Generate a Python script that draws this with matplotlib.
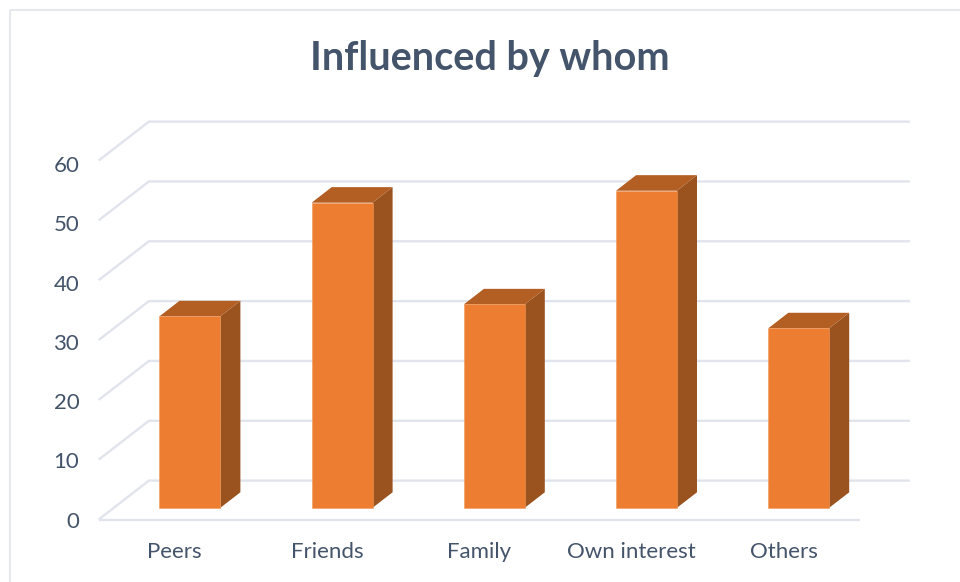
import matplotlib
matplotlib.use("Agg")
from matplotlib import pyplot as plt

categories = ["Peers", "Friends", "Family", "Own interest", "Others"]
values = [32, 51, 34, 53, 30]
y_ticks = [0, 10, 20, 30, 40, 50, 60]

# oblique offset of the back wall, in data units
depth_x = 0.33
depth_y = 6.5
bar_width = 0.4
grid_color = "#E1E4EC"
text_color = "#44546A"

plt.rcParams["font.family"] = ["Lato", "DejaVu Sans"]

fig = plt.figure(figsize=(9.6, 5.82), dpi=100)
ax = fig.add_axes([98.7 / 960, 1 - 519.5 / 582, 761 / 960, 359 / 582])
ax.set_xlim(-0.5, 4.5)
ax.set_ylim(0, 60)
for side in ax.spines.values():
    side.set_visible(False)

# walls and floor
for tick in y_ticks:
    ax.plot([-0.5, -0.5 + depth_x, 4.5 + depth_x],
            [tick, tick + depth_y, tick + depth_y],
            color=grid_color, lw=1.7, clip_on=False, zorder=1,
            solid_joinstyle="miter", solid_capstyle="butt")
ax.plot([-0.5, 4.5], [0, 0], color=grid_color, lw=1.7, clip_on=False, zorder=1,
        solid_capstyle="butt")

# bars sit between 30% and 70% of the depth
x_front = [i + 0.3 * depth_x for i in range(len(values))]
y_base = 0.3 * depth_y
step_x = 0.4 * depth_x
step_y = 0.4 * depth_y

ax.bar(x_front, values, bar_width, bottom=y_base, color="#ED7D31",
       edgecolor="#F09A5C", linewidth=0.4, zorder=4, clip_on=False)
for x, v in zip(x_front, values):
    left = x - bar_width / 2
    right = x + bar_width / 2
    top = y_base + v
    ax.fill([right, right + step_x, right + step_x, right],
            [y_base, y_base + step_y, top + step_y, top],
            color="#9A521E", lw=0, zorder=3, clip_on=False)
    ax.fill([left, left + step_x, right + step_x, right],
            [top, top + step_y, top + step_y, top],
            color="#B35E23", lw=0, zorder=3, clip_on=False)

ax.set_xticks(range(len(categories)))
ax.set_xticklabels(categories)
# the value labels run a little tighter than the gridlines
ax.set_yticks([t * 0.99 for t in y_ticks])
ax.set_yticklabels([str(t) for t in y_ticks])
ax.tick_params(axis="x", length=0, pad=16, labelsize=16, labelcolor=text_color)
ax.tick_params(axis="y", length=0, pad=14, labelsize=16, labelcolor=text_color)

fig.text(489.5 / 960, 1 - 58.5 / 582, "Influenced by whom", ha="center", va="center",
         fontsize=28.5, fontweight="bold", color=text_color)

# chart frame, only top and left are visible in the crop
fig.add_artist(plt.Line2D([9.5 / 960, 9.5 / 960, 1], [0, 1 - 10 / 582, 1 - 10 / 582],
                          color=grid_color, lw=1.2))

fig.savefig("out.png", dpi=100)
